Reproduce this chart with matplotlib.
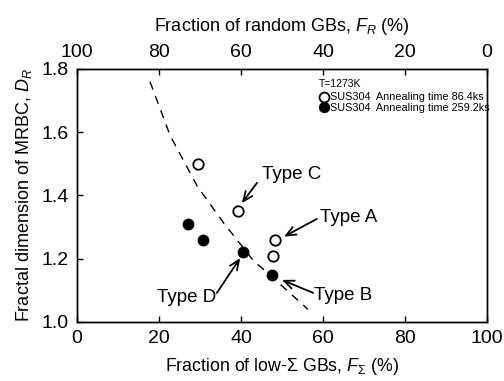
import numpy as np
import matplotlib
matplotlib.use('Agg')
import matplotlib.pyplot as plt

plt.rcParams['font.family'] = ['Liberation Sans', 'DejaVu Sans']
plt.rcParams['mathtext.fontset'] = 'custom'
plt.rcParams['mathtext.rm'] = 'Liberation Sans'
plt.rcParams['mathtext.it'] = 'Liberation Sans:italic'

# measured points
f_open = [29.5, 39.3, 48.3, 47.8]
d_open = [1.50, 1.35, 1.26, 1.21]
f_fill = [27.1, 30.7, 40.5, 47.6]
d_fill = [1.31, 1.26, 1.22, 1.15]

# dashed trend curve
f_curve = [17.8, 22.7, 29.3, 35.6, 42.9, 51.2, 56.3]
d_curve = [1.76, 1.59, 1.43, 1.316, 1.196, 1.10, 1.04]

# annotations: label, text position, arrow tail, arrow head (data coords)
labels = ['Type C', 'Type A', 'Type B', 'Type D']
text_pos = [(45.1, 1.465), (59.3, 1.329), (57.8, 1.085), (33.9, 1.079)]
tails = [(43.9, 1.44), (58.5, 1.326), (57.6, 1.092), (34.1, 1.092)]
heads = [(40.2, 1.376), (50.5, 1.27), (50.0, 1.133), (39.8, 1.202)]

fig = plt.figure(figsize=(5.04, 3.81), dpi=100)
ax = fig.add_axes([0.1528, 0.1549, 0.8135, 0.664])

ax.plot(f_curve, d_curve, color='black', lw=1.0, ls=(0, (6, 5)))
ax.plot(f_open, d_open, 'o', mfc='white', mec='black', mew=1.3, ms=7.5,
        label='SUS304  Annealing time 86.4ks')
ax.plot(f_fill, d_fill, 'o', mfc='black', mec='black', ms=7.5,
        label='SUS304  Annealing time 259.2ks')

for lab, tp, tl, hd in zip(labels, text_pos, tails, heads):
    ha = 'right' if lab == 'Type D' else 'left'
    ax.annotate('', xy=hd, xytext=tl,
                arrowprops=dict(arrowstyle='->,head_length=0.7,head_width=0.3',
                                color='black', lw=1.3, shrinkA=0, shrinkB=0))
    ax.text(tp[0], tp[1], lab, ha=ha, va='center', fontsize=13.5)

ax.set_xlim(0, 100)
ax.set_ylim(1.0, 1.8)
ax.set_xticks([0, 20, 40, 60, 80, 100])
ax.set_yticks([1.0, 1.2, 1.4, 1.6, 1.8])
ax.set_yticklabels(['1.0', '1.2', '1.4', '1.6', '1.8'])
ax.tick_params(direction='in', length=4, labelsize=14, width=1, pad=6)
ax.set_xlabel(r'Fraction of low-$\Sigma$ GBs, $F_{\Sigma}$ (%)', fontsize=12.8, labelpad=6)
ax.set_ylabel(r'Fractal dimension of MRBC, $D_R$', fontsize=13, labelpad=5)

top = ax.twiny()
top.set_xlim(100, 0)
top.set_xticks([100, 80, 60, 40, 20, 0])
top.tick_params(direction='in', length=4, labelsize=14, width=1, pad=6)
top.set_xlabel(r'Fraction of random GBs, $F_R$ (%)', fontsize=13, labelpad=9)

for a in (ax, top):
    for s in a.spines.values():
        s.set_linewidth(1.0)

ax.text(0.59, 0.94, 'T=1273K', transform=ax.transAxes, fontsize=7.5, va='center')
leg = ax.legend(loc='upper left', bbox_to_anchor=(0.578, 0.925), frameon=False,
                fontsize=7.8, handletextpad=0.1, handlelength=1.0,
                borderaxespad=0, labelspacing=0.05, markerscale=0.95)

fig.savefig('out.png', dpi=100)
